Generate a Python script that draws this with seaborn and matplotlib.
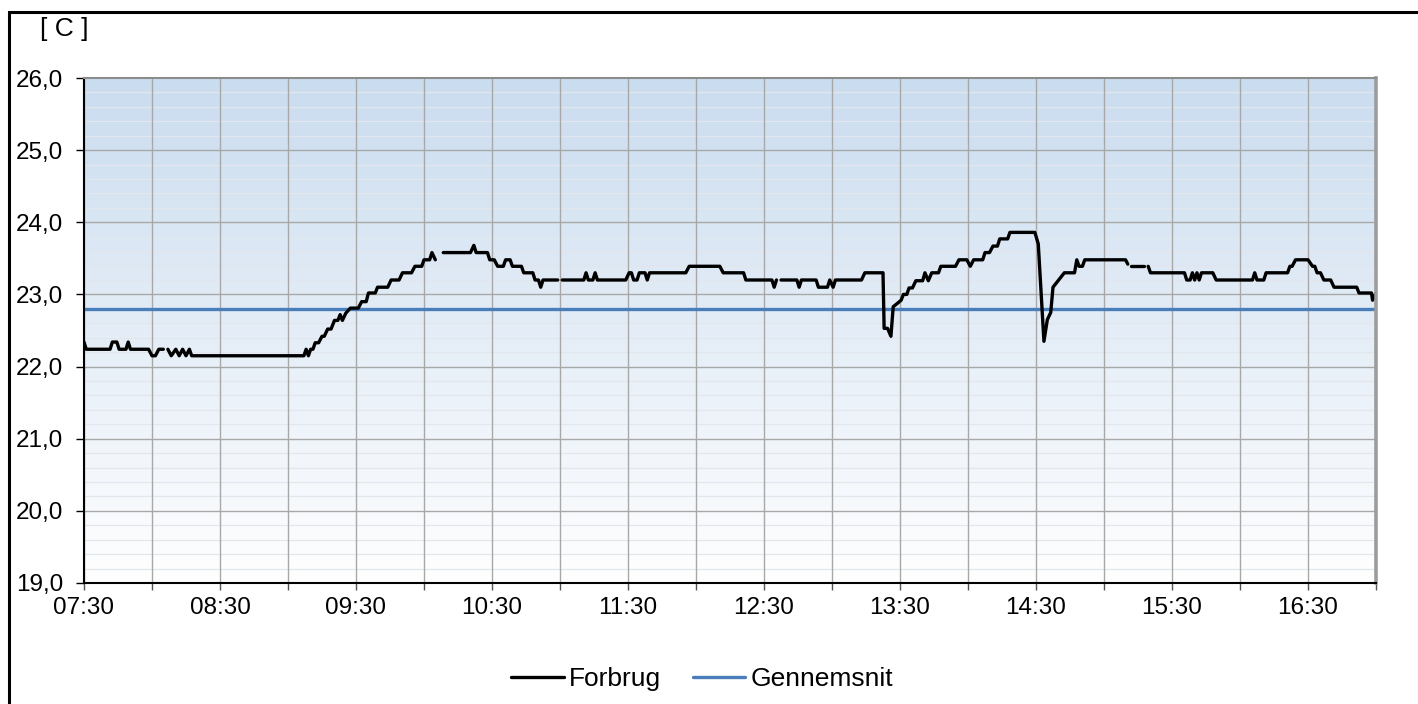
import numpy as np
import pandas as pd
import matplotlib
matplotlib.use("Agg")
import matplotlib.pyplot as plt
import matplotlib.dates as mdates
from matplotlib.lines import Line2D
from matplotlib.patches import Rectangle
from matplotlib.ticker import FuncFormatter, MultipleLocator
import seaborn as sns

# Measurements: minutes after start, temperature [C]; NaN marks missing readings
start = "2000-01-01 07:30"
slut = "2000-01-01 17:00"
nan = np.nan
minutter = [
    0, 1, 11.5, 12.5, 14.5, 15.5, 18.5, 19.5, 20.5, 28.5, 30, 31.5, 33, 35, 36,
    37, 38.5, 40.5, 42, 43.5, 45, 46.5, 47.5, 97,
    98, 99, 100, 101, 102, 103.5, 105, 106, 107.5, 109, 110.5, 112, 113, 114,
    115.5, 117.5, 121, 122.5, 124.5, 125.5, 128.5, 129.5, 134, 135.5, 139,
    140.5, 144.5, 146, 149, 150, 152.5, 153.5, 155, 156,
    158.5, 170.5, 172, 173, 178, 179, 181, 182.5, 185, 186, 188, 189, 193,
    194, 198, 199, 200.5, 201.5, 202.5, 209, 210,
    211, 220.5, 221.5, 222.5, 224.5, 225.5, 226.5, 239, 240.5, 241.5, 242.5,
    244, 245, 247.5, 248.5, 249.5, 265.5, 267, 280.5, 282, 291, 292, 303.5,
    304.5, 305.5, 306.5,
    307.5, 314.5, 315.5, 316.5, 323, 324, 328, 329, 330.5, 331.5, 343, 344.5,
    352.5, 353, 354.5, 356, 357, 359, 360.5, 361.5, 363, 364, 365.5, 367, 370,
    371, 372.5, 374, 377, 378, 384.5, 386, 389.5, 391, 392.5, 396.5, 397.5,
    399.5, 401, 403, 404, 407.5, 408.5, 419.5, 421, 423.5, 425, 426.5, 427.5,
    430, 432.5, 437, 438, 439, 440.5, 441.5, 459.5, 460.5, 461,
    462, 467.5, 468.5,
    469.5, 470.5, 485.5, 486.5, 488, 489, 490, 491, 492, 493, 498, 499.5,
    515.5, 516.5, 517.5, 520.5, 521.5, 531, 532, 533, 534.5, 540, 542, 543,
    544, 545.5, 547, 550, 551.5, 561.5, 562.5, 568, 568.5, 570,
]
forbrug = [
    22.34, 22.24, 22.24, 22.34, 22.34, 22.24, 22.24, 22.34, 22.24, 22.24, 22.15,
    22.15, 22.24, 22.24, nan,
    22.24, 22.15, 22.24, 22.15, 22.24, 22.15, 22.24, 22.15, 22.15,
    22.24, 22.15, 22.24, 22.24, 22.33, 22.33, 22.42, 22.42, 22.52, 22.52,
    22.64, 22.64, 22.72, 22.64, 22.74, 22.81, 22.81, 22.90, 22.90, 23.02,
    23.02, 23.10, 23.10, 23.20, 23.20, 23.30, 23.30, 23.39, 23.39, 23.48,
    23.48, 23.58, 23.48, nan,
    23.58, 23.58, 23.68, 23.58, 23.58, 23.48, 23.48, 23.39, 23.39, 23.48,
    23.48, 23.39, 23.39, 23.30, 23.30, 23.20, 23.20, 23.10, 23.20, 23.20, nan,
    23.20, 23.20, 23.30, 23.20, 23.20, 23.30, 23.20, 23.20, 23.30, 23.30,
    23.20, 23.20, 23.30, 23.30, 23.20, 23.30, 23.30, 23.39, 23.39, 23.30,
    23.30, 23.20, 23.20, 23.10, 23.20, nan,
    23.20, 23.20, 23.10, 23.20, 23.20, 23.10, 23.10, 23.20, 23.10, 23.20,
    23.20, 23.30, 23.30, 22.53, 22.53, 22.42, 22.83, 22.88, 22.92, 23.00,
    23.00, 23.09, 23.09, 23.19, 23.19, 23.30, 23.19, 23.30, 23.30, 23.39,
    23.39, 23.48, 23.48, 23.39, 23.48, 23.48, 23.58, 23.58, 23.67, 23.67,
    23.77, 23.77, 23.86, 23.86, 23.70, 22.35, 22.65, 22.75, 23.10, 23.20,
    23.30, 23.30, 23.48, 23.39, 23.39, 23.48, 23.48, 23.42, nan,
    23.39, 23.39, nan,
    23.39, 23.30, 23.30, 23.20, 23.20, 23.30, 23.20, 23.30, 23.20, 23.30,
    23.30, 23.20, 23.20, 23.30, 23.20, 23.20, 23.30, 23.30, 23.39, 23.39,
    23.48, 23.48, 23.39, 23.39, 23.30, 23.30, 23.20, 23.20, 23.10, 23.10,
    23.02, 23.02, 22.92, 23.02,
]
gennemsnit = 22.8
y_ticks = [19, 20, 21, 22, 23, 24, 25, 26]

sns.set_theme(style="white")
plt.rcParams["font.family"] = ["Liberation Sans", "DejaVu Sans"]
plt.rcParams["text.color"] = "black"
FS = 17.5
FS_LEG = 19

t0 = pd.Timestamp(start)
t1 = pd.Timestamp(slut)
tid = t0 + pd.to_timedelta(minutter, unit="min")
df = pd.DataFrame({"tid": tid, "temp": forbrug})
df["seg"] = df["temp"].isna().cumsum()
df = df.dropna()
df_avg = pd.DataFrame({"tid": [t0, t1], "temp": [gennemsnit, gennemsnit]})

fig = plt.figure(figsize=(14.18, 7.04), dpi=100)
ax = fig.add_axes([84 / 1418, 1 - 583 / 704, (1376 - 84) / 1418, (583 - 78) / 704])

# Blue-to-white vertical gradient behind the plot
top = np.array([202, 220, 239]) / 255
bot = np.array([255, 255, 255]) / 255
f = np.linspace(0, 1, 256)[:, None]
grad = (top[None, :] * (1 - f) + bot[None, :] * f)[:, None, :]
ax.imshow(grad, extent=[0, 1, 0, 1], transform=ax.transAxes, aspect="auto",
          zorder=0, interpolation="bilinear")

sns.lineplot(data=df_avg, x="tid", y="temp", color="#4A7EBB", lw=2.4, ax=ax,
             zorder=3)
sns.lineplot(data=df, x="tid", y="temp", units="seg", estimator=None,
             color="black", lw=2.4, ax=ax, zorder=4)

ax.set_xlim(t0, t1)
ax.set_ylim(19, 26)
ax.set_xlabel("")
ax.set_ylabel("")

ax.set_yticks(y_ticks)
ax.yaxis.set_minor_locator(MultipleLocator(0.2))
ax.yaxis.set_major_formatter(FuncFormatter(lambda v, p: f"{v:.1f}".replace(".", ",")))
ax.xaxis.set_major_locator(mdates.MinuteLocator(byminute=[0, 30]))
ax.xaxis.set_major_formatter(
    FuncFormatter(lambda v, p: mdates.num2date(v).strftime("%H:%M")
                  if mdates.num2date(v).minute == 30 else ""))

# Faint minor rows first, then the major grid on top of them
ax.grid(True, which="minor", axis="y", color="#e3e7ed", lw=0.9, zorder=1)
ax.grid(False, axis="x")
for yv in y_ticks[1:-1]:
    ax.axhline(yv, color="#a8a8a8", lw=1.0, zorder=1.5)
for xv in ax.xaxis.get_majorticklocs():
    ax.axvline(xv, color="#a8a8a8", lw=1.0, zorder=1.5)

ax.tick_params(axis="y", which="major", direction="out", length=5.5, width=1,
               color="black", labelsize=FS, pad=9.5, left=True,
               labelcolor="black")
ax.tick_params(axis="y", which="minor", left=False)
ax.tick_params(axis="x", which="major", direction="out", length=5, width=1,
               color="#555555", labelsize=FS, pad=5, bottom=True,
               labelcolor="black")

ax.spines["left"].set_color("black")
ax.spines["left"].set_linewidth(1.5)
ax.spines["bottom"].set_color("black")
ax.spines["bottom"].set_linewidth(1.5)
ax.spines["top"].set_color("#8c8c8c")
ax.spines["top"].set_linewidth(1.5)
ax.spines["right"].set_color("#9c9c9c")
ax.spines["right"].set_linewidth(2.6)
for s in ax.spines.values():
    s.set_zorder(5)

fig.text(64 / 1418, 1 - 29 / 704, "[ C ]", ha="center", va="center",
         fontsize=FS_LEG, color="black")

handles = [Line2D([], [], color="black", lw=2.4),
           Line2D([], [], color="#4A7EBB", lw=2.4)]
leg = fig.legend(handles, ["Forbrug", "Gennemsnit"], loc="center",
                 bbox_to_anchor=(702 / 1418, 1 - 679 / 704), ncol=2,
                 frameon=False, fontsize=FS_LEG, handlelength=2.0,
                 handletextpad=0.2, columnspacing=1.2)
for txt in leg.get_texts():
    txt.set_color("black")

# Outer frame around the chart
fig.add_artist(Rectangle((9 / 1418, -0.5), 2, 0.5 + (1 - 12 / 704),
                         transform=fig.transFigure, fill=False,
                         edgecolor="black", lw=2.2, clip_on=False))

fig.savefig("out.png", dpi=100, facecolor="white")
